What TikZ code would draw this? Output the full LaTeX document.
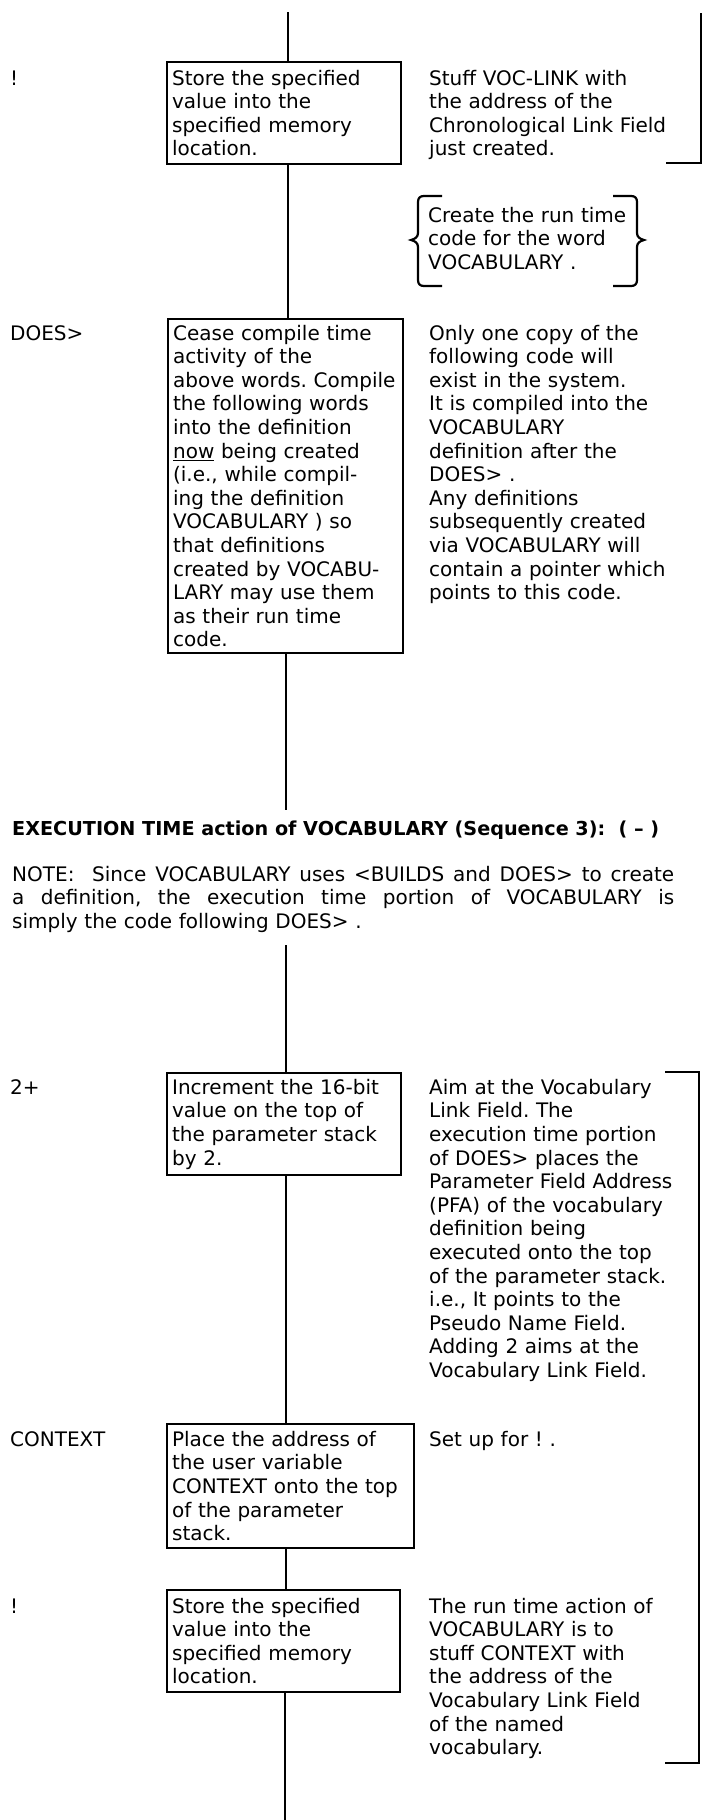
\documentclass[tikz,border=0pt]{standalone}
\usepackage{fontspec}
\setmainfont{DejaVu Sans}
\usetikzlibrary{positioning,calc}
\frenchspacing

\tikzset{
  wordbox/.style={draw, line width=2.2pt, anchor=north west, align=left,
    inner xsep=5pt, inner ysep=0pt, font=\fontsize{20}{23.6}\selectfont},
  remark/.style={anchor=base west, align=left, inner sep=0pt, text width=270pt,
    font=\fontsize{20}{23.6}\selectfont},
  word/.style={anchor=base west, inner sep=0pt, font=\fontsize{20}{23.6}\selectfont},
  spine/.style={line width=2pt},
  bracket/.style={line width=2.2pt}
}
% one stretched line of the note
\newcommand{\fullline}[1]{\makebox[662pt][s]{\spaceskip=0pt\xspaceskip=0pt\relax #1}}

\begin{document}
\begin{tikzpicture}[x=1pt, y=-1pt]
    % Page frame
    \useasboundingbox (0,0) rectangle (705,1820);
    % Define points
    \coordinate (lbl) at (10,0);
    \coordinate (rmk) at (429,0);
    \coordinate (sp0) at (288,12);
    \coordinate (sp1) at (286,810);
    \coordinate (sp2) at (286,945);
    \coordinate (sp3) at (285,1820);

    % Compile time part
    \node[wordbox, text width=224pt, minimum height=102pt] (store) at (166,61)
      {Store the specified\\value into the\\specified memory\\location.};
    \node[word] (storelbl) at (lbl |- store.base) {!};
    \node[remark] (storermk) at (rmk |- store.base)
      {Stuff VOC-LINK with\\the address of the\\Chronological Link Field\\just created.};

    \node[remark] (runtime) at (428,222)
      {Create the run time\\code for the word\\VOCABULARY .};

    \node[wordbox, text width=225pt, minimum height=334pt] (does) at (167,318)
      {Cease compile time\\activity of the\\above words. Compile\\the following words\\
       into the definition\\\underline{now} being created\\(i.e., while compil-\\
       ing the definition\\VOCABULARY ) so\\that definitions\\created by VOCABU-\\
       LARY may use them\\as their run time\\code.};
    \node[word] (doeslbl) at (lbl |- does.base) {DOES>};
    \node[remark] (doesrmk) at (rmk |- does.base)
      {Only one copy of the\\following code will\\exist in the system.\\
       It is compiled into the\\VOCABULARY\\definition after the\\DOES> .\\
       Any definitions\\subsequently created\\via VOCABULARY will\\
       contain a pointer which\\points to this code.};

    % Heading and note
    \node[word, font=\bfseries\fontsize{19.2}{23.6}\selectfont] (exec) at (12,835)
      {EXECUTION TIME action of VOCABULARY (Sequence 3):\ \ ( -- )};
    \node[remark, text width=662pt] (note) at (12,881)
      {\fullline{NOTE:\ \ Since VOCABULARY uses <BUILDS and DOES> to create}\\
       \fullline{a definition, the execution time portion of VOCABULARY is}\\
       simply the code following DOES> .};

    % Execution time part
    \node[wordbox, text width=224pt, minimum height=102pt] (incr) at (166,1072)
      {Increment the 16-bit\\value on the top of\\the parameter stack\\by 2.};
    \node[word] (incrlbl) at (lbl |- incr.base) {2+};
    \node[remark] (incrrmk) at (rmk |- incr.base)
      {Aim at the Vocabulary\\Link Field. The\\execution time portion\\
       of DOES> places the\\Parameter Field Address\\(PFA) of the vocabulary\\
       definition being\\executed onto the top\\of the parameter stack.\\
       i.e., It points to the\\Pseudo Name Field.\\Adding 2 aims at the\\
       Vocabulary Link Field.};

    \node[wordbox, text width=237pt, minimum height=124pt] (ctx) at (166,1423)
      {Place the address of\\the user variable\\CONTEXT onto the top\\
       of the parameter\\stack.};
    \node[word] (ctxlbl) at (lbl |- ctx.base) {CONTEXT};
    \node[remark] (ctxrmk) at (rmk |- ctx.base) {Set up for ! .};

    \node[wordbox, text width=223pt, minimum height=102pt] (store2) at (166,1589)
      {Store the specified\\value into the\\specified memory\\location.};
    \node[word] (store2lbl) at (lbl |- store2.base) {!};
    \node[remark] (store2rmk) at (rmk |- store2.base)
      {The run time action of\\VOCABULARY is to\\stuff CONTEXT with\\
       the address of the\\Vocabulary Link Field\\of the named\\vocabulary.};

    % Spine
    \draw[spine] (sp0) -- (sp0 |- store.north);
    \draw[spine] (sp0 |- store.south) -- (sp0 |- does.north);
    \draw[spine] (sp1 |- does.south) -- (sp1);
    \draw[spine] (sp2) -- (sp2 |- incr.north);
    \draw[spine] (sp2 |- incr.south) -- (sp2 |- ctx.north);
    \draw[spine] (sp2 |- ctx.south) -- (sp2 |- store2.north);
    \draw[spine] (sp3 |- store2.south) -- (sp3);

    % Brackets
    \draw[bracket] (666,163) -- (701,163) -- (701,13);
    \draw[bracket] (665,1072) -- (699,1072) -- (699,1763) -- (665,1763);
    \draw[bracket] (442,196) -- (424,196) .. controls (420,196) and (418,198) .. (418,202)
      -- (418,233) .. controls (418,237) and (415,239) .. (411,240)
      .. controls (415,241) and (418,243) .. (418,247)
      -- (418,280) .. controls (418,284) and (420,286) .. (424,286) -- (442,286);
    \draw[bracket] (613,196) -- (631,196) .. controls (635,196) and (637,198) .. (637,202)
      -- (637,233) .. controls (637,237) and (640,239) .. (644,240)
      .. controls (640,241) and (637,243) .. (637,247)
      -- (637,280) .. controls (637,284) and (635,286) .. (631,286) -- (613,286);
\end{tikzpicture}
\end{document}
